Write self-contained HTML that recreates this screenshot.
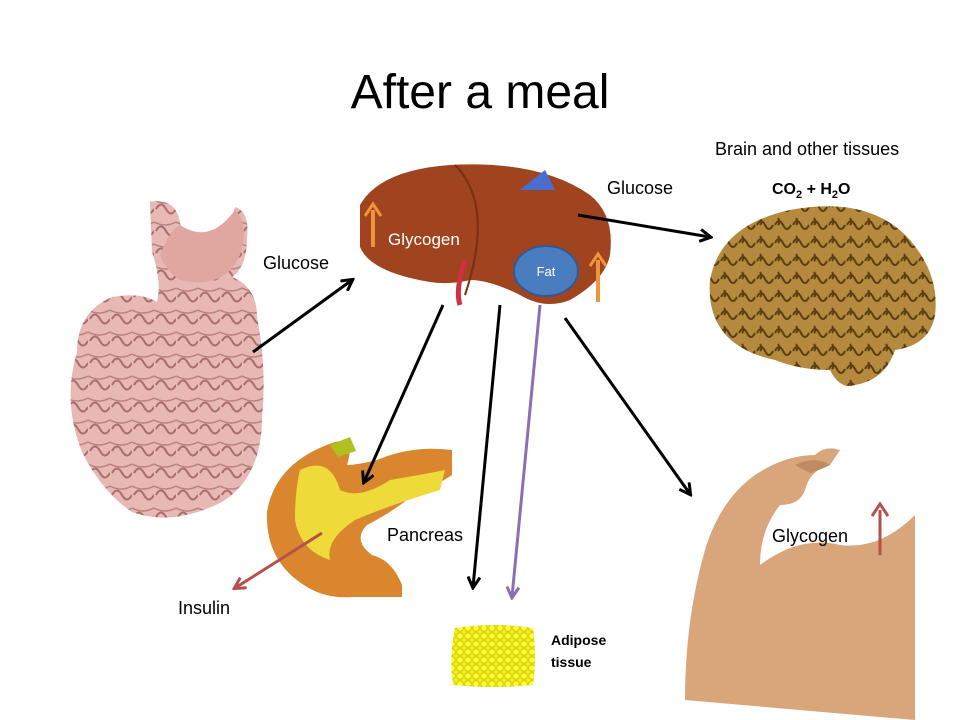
<!DOCTYPE html>
<html><head><meta charset="utf-8"><style>
html,body{margin:0;padding:0;background:#fff;}
svg{display:block;font-family:"Liberation Sans",sans-serif;}
</style></head><body>
<svg width="960" height="720" viewBox="0 0 960 720" xmlns="http://www.w3.org/2000/svg">
<defs>
<marker id="ab" markerWidth="14" markerHeight="14" refX="11" refY="7" orient="auto" markerUnits="userSpaceOnUse"><path d="M1,1 L12,7 L1,13" fill="none" stroke="#000" stroke-width="3"/></marker>
<marker id="ap" markerWidth="14" markerHeight="14" refX="11" refY="7" orient="auto" markerUnits="userSpaceOnUse"><path d="M1,1 L12,7 L1,13" fill="none" stroke="#8a6fb5" stroke-width="3"/></marker>
<marker id="ar" markerWidth="14" markerHeight="14" refX="11" refY="7" orient="auto" markerUnits="userSpaceOnUse"><path d="M1,1 L12,7 L1,13" fill="none" stroke="#b5504a" stroke-width="3"/></marker>
<pattern id="fat" width="8" height="8" patternUnits="userSpaceOnUse"><rect width="8" height="8" fill="#f2ee18"/><circle cx="4" cy="4" r="3.3" fill="#fffb3a" stroke="#c8c200" stroke-width="0.8"/></pattern>
<pattern id="gut" width="22" height="22" patternUnits="userSpaceOnUse"><rect width="22" height="22" fill="#e8b8b4"/><path d="M2,11 q5,-9 10,0 t10,0" fill="none" stroke="#a86e6c" stroke-width="2"/><path d="M0,2 q11,6 22,0" fill="none" stroke="#b98280" stroke-width="1.5"/></pattern>
<pattern id="brain" width="18" height="18" patternUnits="userSpaceOnUse"><rect width="18" height="18" fill="#b58a3e"/><path d="M1,9 q4,-8 8,0 t8,0 M4,2 q3,4 0,7" fill="none" stroke="#5c3e12" stroke-width="2"/></pattern>
</defs>
<text x="480" y="108" font-size="48" text-anchor="middle" fill="#000">After a meal</text>

<path d="M150,202 q25,-5 30,20 q5,25 30,25 q20,-15 25,-40 q15,5 12,30 q0,30 -15,40 q25,10 25,40 q10,50 5,100 q0,60 -40,85 q-50,25 -90,10 q-30,-20 -50,-60 q-20,-50 -5,-100 q0,-40 35,-55 q30,-5 45,5 q5,-20 -5,-50 z" fill="url(#gut)"/>
<path d="M180,225 q30,20 55,-15 q15,15 5,45 q-15,35 -60,25 q-15,-10 -20,-25 q10,-25 20,-30z" fill="#e0a6a0"/>

<path d="M360,205 q20,-35 90,-40 q90,-5 140,30 q25,20 20,60 q-5,25 -40,45 q-25,10 -50,-5 q-30,-15 -50,-15 q-20,5 -40,2 q-60,-10 -70,-35 z" fill="#a0431f"/>
<path d="M455,165 q40,40 10,130" fill="none" stroke="#7a2e12" stroke-width="2"/>
<path d="M520,190 l25,-20 l10,20 z" fill="#4a6ed0"/>
<path d="M465,260 q-10,30 -5,45" stroke="#d03040" stroke-width="5" fill="none"/>
<text x="388" y="245" font-size="17" fill="#fff">Glycogen</text>
<line x1="373" y1="247" x2="373" y2="210" stroke="#f0943a" stroke-width="4"/><path d="M365,216 L373,204 L381,216" fill="none" stroke="#f0943a" stroke-width="3"/>
<ellipse cx="546" cy="271" rx="32" ry="25" fill="#4a7cc0" stroke="#35598f" stroke-width="2"/>
<text x="546" y="276" font-size="13" text-anchor="middle" fill="#fff">Fat</text>
<line x1="598" y1="302" x2="598" y2="260" stroke="#f0943a" stroke-width="4"/><path d="M590,266 L598,254 L606,266" fill="none" stroke="#f0943a" stroke-width="3"/>

<text x="263" y="269" font-size="18">Glucose</text>
<text x="607" y="194" font-size="18">Glucose</text>
<text x="715" y="155" font-size="18">Brain and other tissues</text>
<text x="772" y="194" font-size="16" font-weight="bold">CO<tspan font-size="11" dy="4">2</tspan><tspan dy="-4"> + H</tspan><tspan font-size="11" dy="4">2</tspan><tspan dy="-4">O</tspan></text>

<path d="M710,280 q10,-55 80,-70 q80,-15 120,30 q30,35 25,75 q-5,30 -40,35 q-10,30 -40,35 q-15,5 -25,-15 q-30,0 -55,-10 q-70,-15 -65,-80z" fill="url(#brain)"/>

<path d="M335,442 q-60,20 -68,70 q-2,50 40,75 q20,12 45,10 l50,0 l0,-12 q-10,-25 -30,-30 q-20,-15 -5,-30 q20,-10 40,-25 q30,-15 45,-25 l0,-25 q-40,-5 -75,10 q-20,5 -30,5 q5,-15 0,-25z" fill="#d9862e"/>
<path d="M300,470 q30,-15 40,20 q20,10 50,-10 q30,-5 55,-10 l-5,20 q-50,15 -85,30 q-30,20 -25,40 q-30,-10 -35,-40 q0,-30 5,-50z" fill="#eedb3a"/>
<path d="M330,445 l20,-8 l6,14 l-18,6z" fill="#b0c020"/>
<text x="387" y="541" font-size="18">Pancreas</text>
<text x="178" y="614" font-size="18">Insulin</text>

<path d="M455,628 q40,-6 78,0 q4,28 0,57 q-40,4 -80,0 q-4,-30 2,-57z" fill="url(#fat)"/>
<text x="551" y="645" font-size="14" font-weight="bold">Adipose</text>
<text x="551" y="667" font-size="14" font-weight="bold">tissue</text>

<path d="M685,700 q0,-80 20,-150 q15,-50 50,-75 q30,-20 60,-20 q10,-10 25,-5 l-10,15 q-20,5 -25,25 q-5,15 -25,15 q-20,25 -20,60 q40,-30 80,-20 q40,5 75,-30 l0,205 z" fill="#d9a57a"/>
<path d="M795,465 q20,-10 35,0 q-10,5 -20,8 z" fill="#c08a62"/>
<text x="772" y="542" font-size="18">Glycogen</text>
<line x1="880" y1="555" x2="880" y2="510" stroke="#b5504a" stroke-width="3"/><path d="M872,516 L880,504 L888,516" fill="none" stroke="#b5504a" stroke-width="3"/>

<!-- arrows on top -->
<line x1="253" y1="352" x2="352" y2="280" stroke="#000" stroke-width="3" marker-end="url(#ab)"/>
<line x1="578" y1="215" x2="710" y2="237" stroke="#000" stroke-width="3" marker-end="url(#ab)"/>
<line x1="443" y1="305" x2="364" y2="482" stroke="#000" stroke-width="3" marker-end="url(#ab)"/>
<line x1="500" y1="305" x2="473" y2="587" stroke="#000" stroke-width="3" marker-end="url(#ab)"/>
<line x1="540" y1="305" x2="512" y2="597" stroke="#8a6fb5" stroke-width="3" marker-end="url(#ap)"/>
<line x1="565" y1="318" x2="690" y2="494" stroke="#000" stroke-width="3" marker-end="url(#ab)"/>
<line x1="322" y1="533" x2="235" y2="588" stroke="#b5504a" stroke-width="3" marker-end="url(#ar)"/>
</svg>
</body></html>
